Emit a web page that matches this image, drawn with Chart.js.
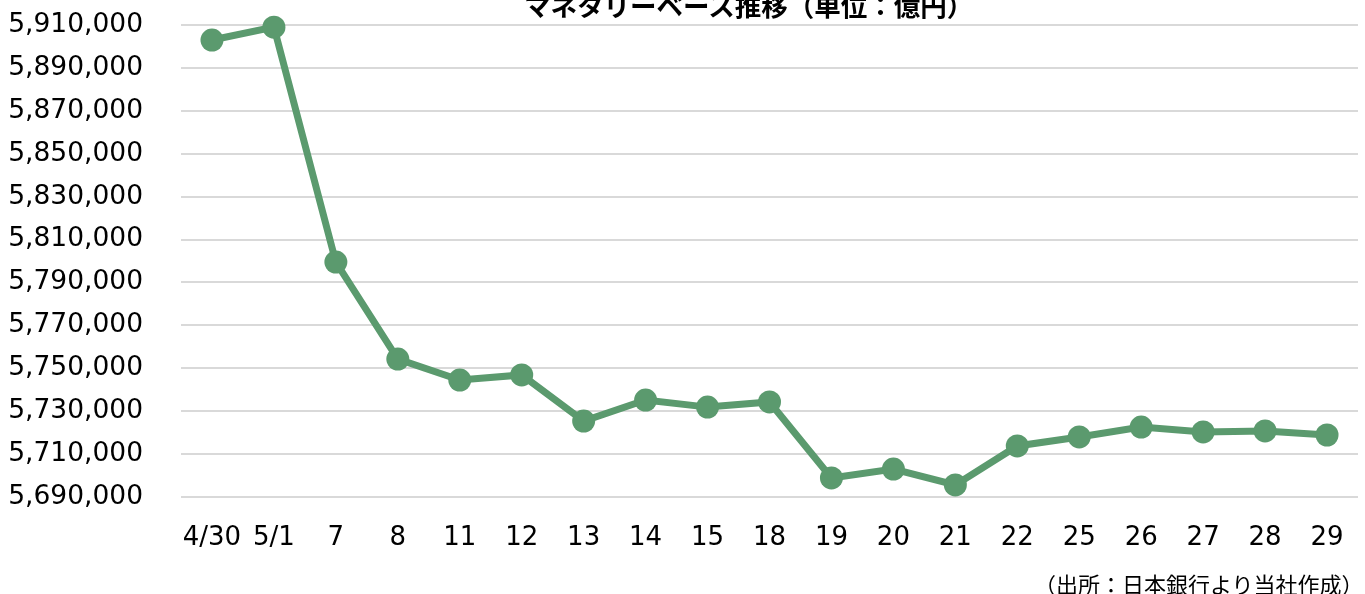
<!DOCTYPE html>
<html>
<head>
<meta charset="utf-8">
<script src="https://cdn.jsdelivr.net/npm/chart.js@4/dist/chart.umd.min.js"></script>
<style>
  html, body { margin: 0; padding: 0; background: #fff; overflow: hidden; }
  #wrap { position: absolute; left: 0; top: -29px; width: 1365px; height: 623px; }
  .title { position: absolute; left: 524px; top: -8px; white-space: nowrap;
           font: bold 26.5px/26px 'Noto Sans CJK JP', sans-serif; color: #000; }
  .source { position: absolute; left: 1034px; top: 572px; white-space: nowrap;
            font: 22px/22px 'Noto Sans CJK JP', sans-serif; color: #000; }
</style>
</head>
<body>
<div id="wrap"><canvas id="mbChart"></canvas></div>
<div class="title">マネタリーベース推移（単位：億円）</div>
<div class="source">（出所：日本銀行より当社作成）</div>
<script>
// 日付ラベル
const labels = ['4/30', '5/1', '7', '8', '11', '12', '13', '14', '15', '18', '19', '20', '21', '22', '25', '26', '27', '28', '29'];
// マネタリーベース（億円）
const values = [5903000, 5909000, 5799500, 5754300, 5744500, 5746900, 5725400, 5735200, 5731900, 5734300,
                5698900, 5703000, 5695600, 5713800, 5718000, 5722600, 5720300, 5720800, 5718900];
const yMin = 5690000;
const yMax = 5910000;
const yStep = 20000;

const green = '#5b9a6e';
const font = "'DejaVu Sans', Verdana, 'Noto Sans CJK JP', sans-serif";

document.addEventListener('DOMContentLoaded', function() {
    const ctx = document.getElementById('mbChart');
    new Chart(ctx, {
        type: 'line',
        data: {
            labels: labels,
            datasets: [{
                data: values,
                borderColor: green,
                backgroundColor: green,
                borderWidth: 7,
                pointRadius: 11.5,
                pointBackgroundColor: green,
                pointBorderColor: green,
                pointBorderWidth: 0,
                tension: 0,
                clip: false
            }]
        },
        options: {
            responsive: true,
            maintainAspectRatio: false,
            animation: false,
            layout: { autoPadding: false, padding: { left: 8, right: 7, top: 54, bottom: 0 } },
            plugins: {
                legend: { display: false },
                tooltip: { enabled: false }
            },
            scales: {
                x: {
                    offset: true,
                    grid: { display: false, drawTicks: false },
                    border: { display: false },
                    afterFit: function(scale) {
                        scale.height = 97;
                        scale.paddingLeft = 0;
                        scale.paddingRight = 0;
                    },
                    ticks: {
                        color: '#000',
                        font: { family: font, size: 26 },
                        padding: 26,
                        maxRotation: 0,
                        autoSkip: false
                    }
                },
                y: {
                    min: yMin,
                    max: yMax,
                    grid: { color: '#d9d9d9', lineWidth: 2, drawTicks: false },
                    border: { display: false },
                    afterFit: function(scale) { scale.width = 173; },
                    ticks: {
                        stepSize: yStep,
                        color: '#000',
                        font: { family: font, size: 26.5 },
                        padding: 38,
                        callback: function(value) {
                            return value.toLocaleString('en-US');
                        }
                    }
                }
            }
        }
    });
});
</script>
</body>
</html>
